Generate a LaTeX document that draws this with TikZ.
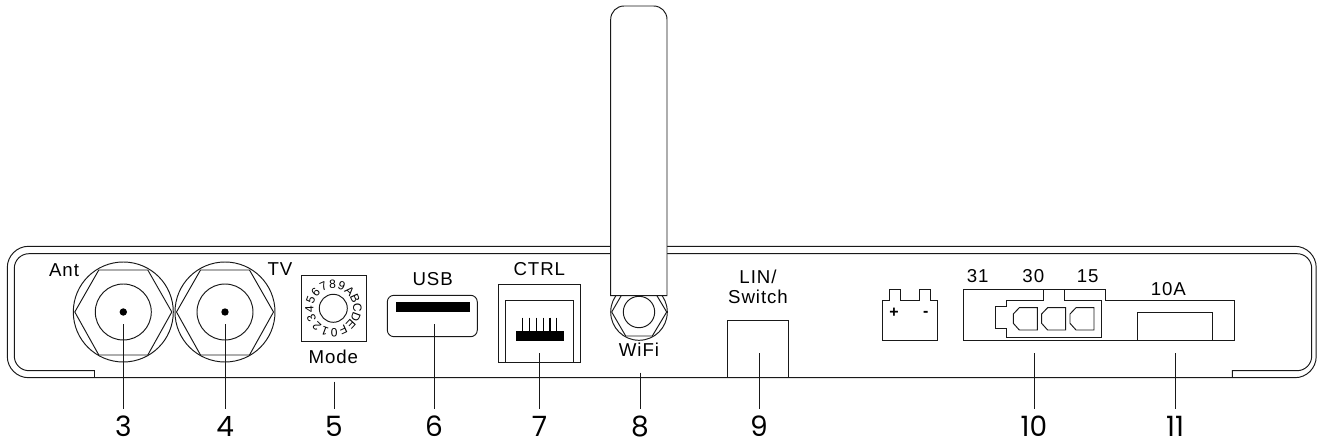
\documentclass[tikz,border=0pt]{standalone}
\usetikzlibrary{calc}
\usepackage{fontspec}
\setmainfont{Liberation Sans}
\newfontfamily\numfont{Poppins}
\tikzset{
  ln/.style={line width=0.72pt,draw=black!90,line join=miter},
  lbl/.style={inner sep=0pt,font=\fontsize{14pt}{16pt}\selectfont\addfontfeature{LetterSpace=5}},
  num/.style={anchor=north,inner sep=0pt,text height=14.5pt,text depth=0pt,font=\fontsize{21pt}{23pt}\numfont},
  leader/.style={line width=0.72pt,draw=black!90,shorten >=6pt},
  dial/.style={inner sep=0pt,font=\fontsize{9pt}{10pt}\selectfont}
}
\begin{document}
\begin{tikzpicture}[x=0.75pt,y=-0.75pt]
\useasboundingbox (0,0) rectangle (1317,441);
% housing
\draw[ln,rounded corners=16pt] (7.3,246.3) rectangle (1316.2,377.7);
\draw[ln] (94.5,377.7) -- (94.5,370.7) [rounded corners=11pt] -- (14.3,370.7) -- (14.3,253.7) -- (1311.7,253.7) -- (1311.7,370.7) [sharp corners] -- (1232.3,370.7) -- (1232.3,377.7);
% Ant / TV connectors
\foreach \cx/\nm in {123.3/a,225/b}{
  \draw[ln] (\cx,312) circle[radius=50];
  \draw[ln] (\cx,312) circle[radius=28];
  \draw[ln] (\cx-48.5,312) -- (\cx-24.5,270) -- (\cx+24.5,270) -- (\cx+48.5,312) -- (\cx+24.5,355) -- (\cx-24.5,355) -- cycle;
  \fill (\cx,312) circle[radius=3.7];
}
\node[lbl] (ant) at (64,270) {Ant};
\node[lbl] (tv) at (280,269) {TV};
% Mode dial
\draw[ln] (301,275.7) rectangle (366.7,341.3);
\draw[ln] (333.3,308.3) circle[radius=14];
\foreach \c [count=\i from 0, evaluate=\i as \ang using 92-22.5*\i, evaluate=\i as \rt using 2-22.5*\i] in {8,9,A,B,C,D,E,F,0,1,2,3,4,5,6,7}{
  \node[dial,rotate=\rt] (d\i) at ($(333.3,308.3)+(\ang:24 and -24)$) {\c};
}
\node[lbl] (mode) at (333.3,357.3) {Mode};
% USB
\draw[ln,rounded corners=5pt] (387.3,295.3) rectangle (477.3,336.7);
\fill (396,302) rectangle (470,311.7);
\node[lbl] (usb) at (432.7,279.3) {USB};
% CTRL
\draw[ln] (498.3,284.3) rectangle (580.7,362.3);
\draw[ln] (505.7,362.3) -- (505.7,300.7) -- (573.3,300.7) -- (573.3,362.3);
\fill (516,331) rectangle (564,340.7);
\foreach \px in {522.7,529.5,536.3,543.1,549.9,556.7}{
  \draw[line width=0.9pt] (\px,317.7) -- (\px,331);
}
\node[lbl] (ctrl) at (539.3,269.3) {CTRL};
% WiFi
\draw[ln] (639,312) circle[radius=28.3];
\draw[ln] (639,312) circle[radius=15.7];
\draw[ln] (611.7,312) -- (625.7,288) -- (652.3,288) -- (666.7,312) -- (652.3,336) -- (625.7,336) -- cycle;
\draw[ln,fill=white] (610.7,295.7) -- (610.7,21) [rounded corners=10pt] -- (610.7,6) -- (667,6) [sharp corners] -- (667,295.7) -- cycle;
\node[lbl] (wifi) at (639,350) {WiFi};
% LIN
\draw[ln] (727.7,320.3) rectangle (788.3,377.7);
\node[lbl] (lin) at (758,276.7) {LIN/};
\node[lbl] (switch) at (758,297.3) {Switch};
% Battery
\draw[ln] (882.3,340.7) -- (882.3,300.7) -- (889.3,300.7) -- (889.3,289) -- (900.7,289) -- (900.7,300.7) -- (919.3,300.7) -- (919.3,289) -- (930.7,289) -- (930.7,300.7) -- (937.7,300.7) -- (937.7,340.7) -- cycle;
\node[inner sep=0pt,font=\fontsize{12pt}{14pt}\bfseries] (plus) at (894,312.7) {+};
\node[inner sep=0pt,font=\fontsize{12pt}{14pt}\bfseries] (minus) at (925.7,313.5) {-};
% Power block
\draw[ln] (963.7,289.3) -- (1105.7,289.3) -- (1105.7,300.3) -- (1234.3,300.3) -- (1234.3,340.7) -- (963.7,340.7) -- cycle;
\draw[ln] (1043.3,289.3) -- (1043.3,300) -- (1006.7,300) -- (1006.7,306.7) -- (995.7,306.7) -- (995.7,328.3) -- (1006.7,328.3) -- (1006.7,337.3) -- (1101.7,337.3) -- (1101.7,300) -- (1064,300) -- (1064,289.3);
\foreach \dx in {0,28.3,56.7}{
  \draw[ln] (1019.3+\dx,307.7) -- (1037.3+\dx,307.7) -- (1037.3+\dx,330) -- (1019.3+\dx,330) -- (1013.3+\dx,323.3) -- (1013.3+\dx,314) -- cycle;
}
\node[lbl] (t31) at (977.7,276) {31};
\node[lbl] (t30) at (1033.3,276) {30};
\node[lbl] (t15) at (1087.7,276) {15};
\node[lbl] (t10a) at (1168.3,289.3) {10A};
\draw[ln] (1137.5,340.7) -- (1137.5,312.7) -- (1212.3,312.7) -- (1212.3,340.7);
% Leaders and numbers
\foreach \lab/\nx/\ltop/\ly in {3/123.3/c3/324.3,4/225.3/c4/324.3,5/334/c5/381.7,6/434/c6/324.3,7/539.5/c7/353.3,8/640/c8/372.7,9/759/c9/353.3,10/1034/c10/353.3,11/1175/c11/353.3}{
  \coordinate (\ltop) at (\nx,\ly);
  \node[num] (n\lab) at (\nx,417) {\lab};
  \draw[leader] (\ltop) -- (n\lab.north);
}
\end{tikzpicture}
\end{document}
